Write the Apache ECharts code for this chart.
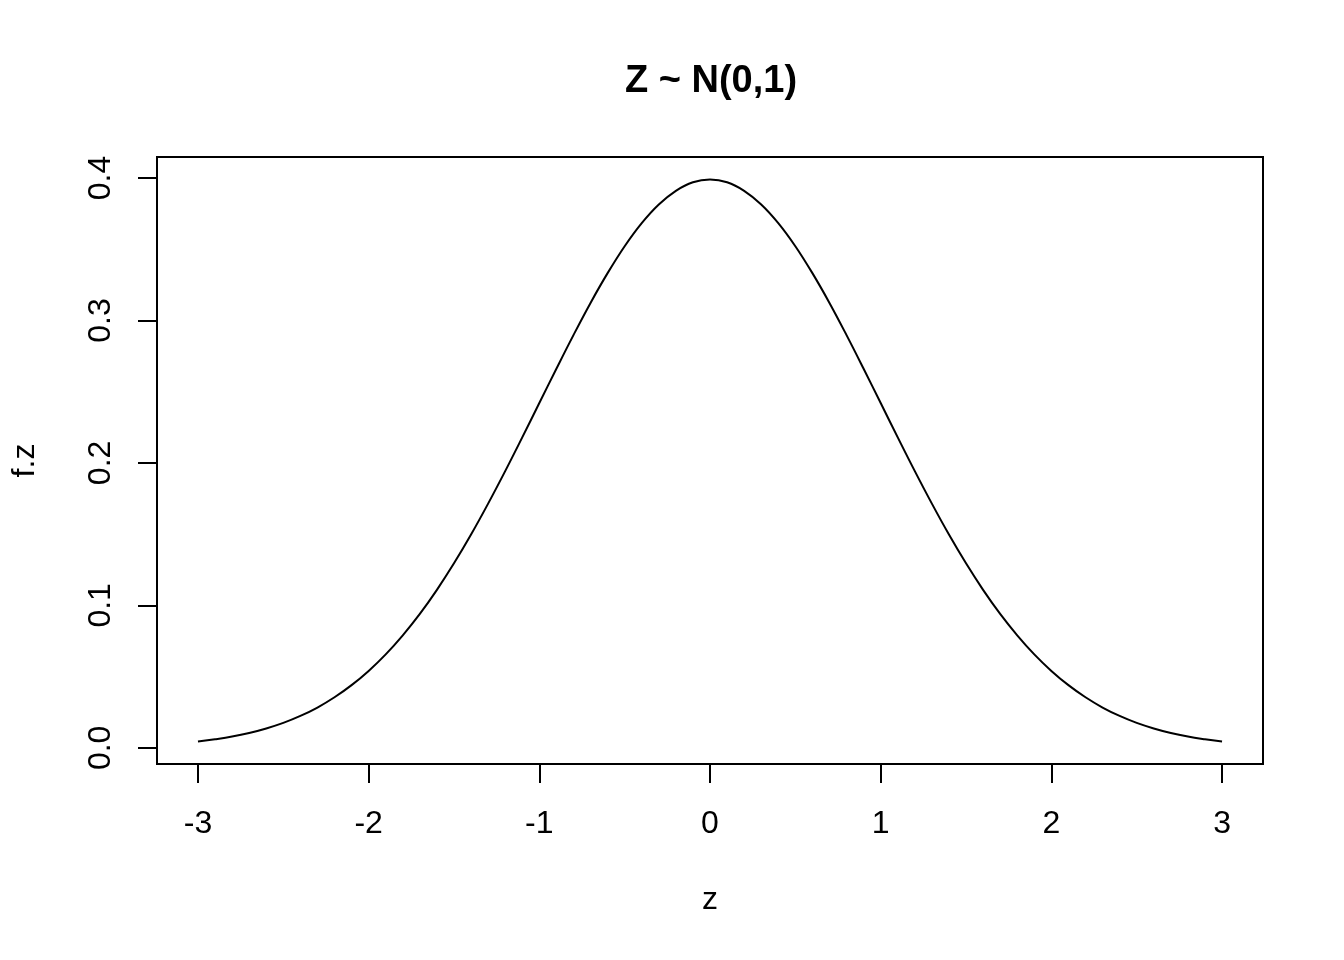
<!DOCTYPE html>
<html>
<head>
<meta charset="utf-8">
<script src="https://cdn.jsdelivr.net/npm/echarts@6/dist/echarts.min.js"></script>
<style>
html,body{margin:0;padding:0;background:#fff;}
#chart{width:1344px;height:960px;}
</style>
</head>
<body>
<div id="chart"></div>
<script>
var zValues = [-3.0,-2.9,-2.8,-2.7,-2.6,-2.5,-2.4,-2.3,-2.2,-2.1,-2.0,-1.9,-1.8,-1.7,-1.6,-1.5,-1.4,-1.3,-1.2,-1.1,-1.0,-0.9,-0.8,-0.7,-0.6,-0.5,-0.4,-0.3,-0.2,-0.1,0.0,0.1,0.2,0.3,0.4,0.5,0.6,0.7,0.8,0.9,1.0,1.1,1.2,1.3,1.4,1.5,1.6,1.7,1.8,1.9,2.0,2.1,2.2,2.3,2.4,2.5,2.6,2.7,2.8,2.9,3.0];
var fzValues = [0.0044,0.0060,0.0079,0.0104,0.0136,0.0175,0.0224,0.0283,0.0355,0.0440,0.0540,0.0656,0.0790,0.0940,0.1109,0.1295,0.1497,0.1714,0.1942,0.2179,0.2420,0.2661,0.2897,0.3123,0.3332,0.3521,0.3683,0.3814,0.3910,0.3970,0.3989,0.3970,0.3910,0.3814,0.3683,0.3521,0.3332,0.3123,0.2897,0.2661,0.2420,0.2179,0.1942,0.1714,0.1497,0.1295,0.1109,0.0940,0.0790,0.0656,0.0540,0.0440,0.0355,0.0283,0.0224,0.0175,0.0136,0.0104,0.0079,0.0060,0.0044];
var xTicks = [-3,-2,-1,0,1,2,3];
var yTicks = [0,0.1,0.2,0.3,0.4];
var titleText = 'Z ~ N(0,1)';
var xName = 'z';
var yName = 'f.z';

var FONT = '"Liberation Sans", Arial, sans-serif';
var points = zValues.map(function(z,i){return [z, fzValues[i]];});

var chart = echarts.init(document.getElementById('chart'), null, {renderer:'canvas'});
chart.setOption({
  animation:false,
  backgroundColor:'#ffffff',
  title:{
    text:titleText,
    left:706, top:58, textAlign:'center',
    textStyle:{fontFamily:FONT,fontSize:38,fontWeight:'bold',color:'#000'}
  },
  grid:{
    left:157, top:157, width:1106, height:607,
    show:true, borderColor:'#000', borderWidth:2, backgroundColor:'transparent',
    containLabel:false
  },
  xAxis:{
    type:'value', min:-3.24, max:3.24, position:'bottom',
    name:xName, nameLocation:'middle', nameGap:136,
    nameTextStyle:{fontFamily:FONT,fontSize:32,color:'#000',verticalAlign:'middle'},
    axisLine:{show:false,onZero:false},
    splitLine:{show:false},
    axisTick:{show:true,inside:false,length:19,customValues:xTicks,lineStyle:{color:'#000',width:2}},
    axisLabel:{customValues:xTicks,margin:60,verticalAlign:'middle',fontFamily:FONT,fontSize:32,color:'#000',
      formatter:function(v){return String(v);}}
  },
  yAxis:{
    type:'value', min:-0.01135, max:0.41472, position:'left',
    name:yName, nameLocation:'middle', nameGap:132, nameRotate:90,
    nameTextStyle:{fontFamily:FONT,fontSize:32,color:'#000',verticalAlign:'middle'},
    axisLine:{show:false,onZero:false},
    splitLine:{show:false},
    axisTick:{show:true,inside:false,length:19,customValues:yTicks,lineStyle:{color:'#000',width:2}},
    axisLabel:{customValues:yTicks,rotate:90,margin:40,fontFamily:FONT,fontSize:32,color:'#000',
      formatter:function(v){return v.toFixed(1);}}
  },
  series:[{
    type:'line',
    data:points,
    showSymbol:false,
    smooth:0.4,
    lineStyle:{color:'#000',width:2},
    itemStyle:{color:'#000'}
  }]
});
</script>
</body>
</html>
